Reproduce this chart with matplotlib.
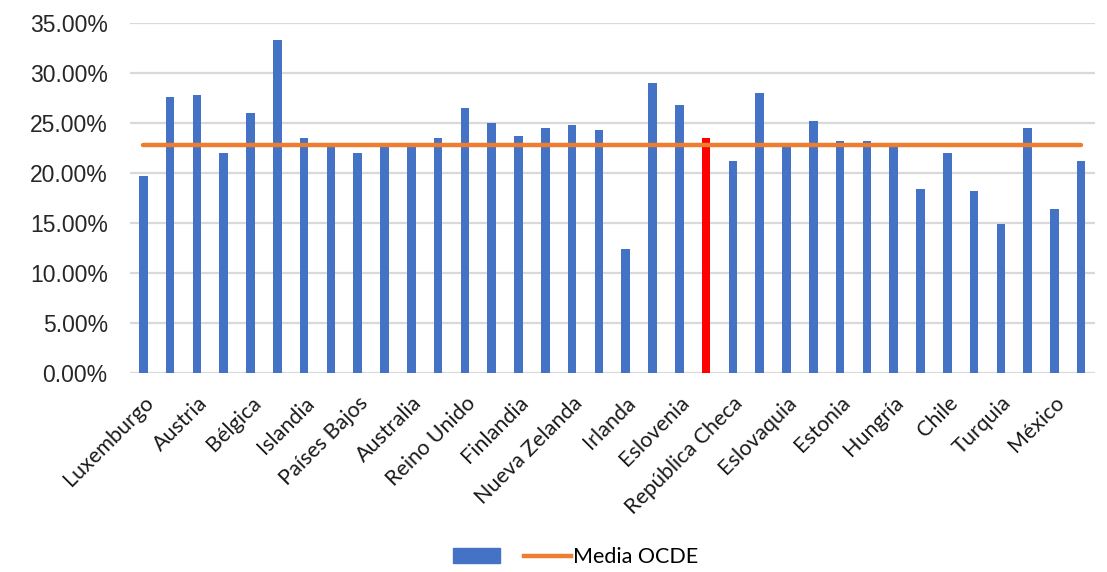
import numpy as np
import matplotlib
matplotlib.use("Agg")
import matplotlib.pyplot as plt
from matplotlib.patches import Patch
from matplotlib.lines import Line2D
from matplotlib.ticker import PercentFormatter

# 36 countries, only every other one is labelled on the axis
labels = ["Luxemburgo", "", "Austria", "", "Bélgica", "", "Islandia", "",
          "Países Bajos", "", "Australia", "", "Reino Unido", "", "Finlandia", "",
          "Nueva Zelanda", "", "Irlanda", "", "Eslovenia", "", "República Checa", "",
          "Eslovaquia", "", "Estonia", "", "Hungría", "", "Chile", "",
          "Turquia", "", "México", ""]
values = [19.7, 27.6, 27.8, 22.0, 26.0, 33.3, 23.5, 23.0, 22.0, 22.55, 22.6, 23.5,
          26.5, 25.0, 23.7, 24.5, 24.8, 24.3, 12.4, 29.0, 26.8, 23.5, 21.2, 28.0,
          22.55, 25.2, 23.2, 23.2, 22.55, 18.4, 22.0, 18.2, 14.9, 24.5, 16.4, 21.2]
highlight = 21
oecd_mean = 22.75

blue = "#4472C4"
orange = "#ED7D31"

plt.rcParams["font.family"] = ["Lato", "DejaVu Sans"]

fig = plt.figure(figsize=(11.07, 5.72), dpi=100)
ax = fig.add_axes([0.1174, 0.3474, 0.8714, 0.6129])

x = np.arange(len(values))
vals = np.array(values) / 100
colors = [blue] * len(values)
colors[highlight] = "#FF0000"
ax.bar(x, vals, width=0.32, color=colors, zorder=2)
ax.plot(x, [oecd_mean / 100] * len(x), color=orange, lw=3.2,
        solid_capstyle="round", zorder=3)

ax.set_xlim(-0.5, len(values) - 0.5)
ax.set_ylim(0, 0.35)
ax.set_yticks(np.arange(0, 0.351, 0.05))
ax.yaxis.set_major_formatter(PercentFormatter(1.0, decimals=2))
ax.grid(axis="y", color="#D9D9D9", lw=1.6, zorder=0)
ax.set_axisbelow(True)
for s in ax.spines.values():
    s.set_visible(False)

ax.tick_params(axis="y", length=0, pad=16, labelsize=16.5, labelcolor="#262626")
for t in ax.get_yticklabels():
    t.set_family(["Liberation Sans", "DejaVu Sans"])

ax.set_xticks(x)
ax.set_xticklabels(labels, rotation=45, ha="right", rotation_mode="anchor",
                   fontsize=15.5, color="#1a1a1a")
ax.tick_params(axis="x", length=0, pad=14)

handles = [Patch(color=blue), Line2D([], [], color=orange, lw=3.2)]
fig.legend(handles, ["", "Media OCDE"], loc="center", bbox_to_anchor=(0.52, 0.026),
           ncol=2, frameon=False, fontsize=15.5, handlelength=2.2,
           handletextpad=0.1, columnspacing=1.0)

fig.savefig("out.png", dpi=100)
